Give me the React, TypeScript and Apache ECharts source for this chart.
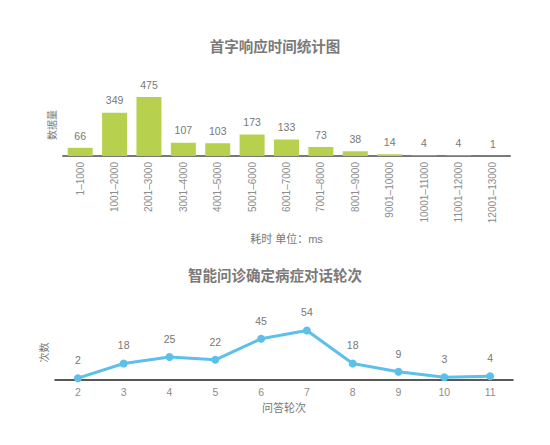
import {useEffect, useRef} from 'react';
import * as echarts from 'echarts';

const latencyBuckets = [
    '1–1000', '1001–2000', '2001–3000', '3001–4000', '4001–5000', '5001–6000', '6001–7000',
    '7001–8000', '8001–9000', '9001–10000', '10001–11000', '11001–12000', '12001–13000'
];
const latencyCounts = [66, 349, 475, 107, 103, 173, 133, 73, 38, 14, 4, 4, 1];

const dialogRounds = ['2', '3', '4', '5', '6', '7', '8', '9', '10', '11'];
const dialogTimes = [2, 18, 25, 22, 45, 54, 18, 9, 3, 4];

const FONT = '"Liberation Sans", "Noto Sans CJK SC", sans-serif';
const TEXT = '#777';
const TICK = '#8c8c8c';

export default function App() {
    const ref = useRef<HTMLDivElement | null>(null);

    useEffect(() => {
        if (!ref.current) return;
        const chart = echarts.init(ref.current, null, {renderer: 'svg'});
        chart.setOption({
            animation: false,
            textStyle: {fontFamily: FONT},
            title: [
                {
                    text: '首字响应时间统计图', left: 'center', top: 35,
                    textStyle: {fontSize: 14.5, fontWeight: 'bold', color: '#7a7a7a', fontFamily: FONT}
                },
                {
                    text: '智能问诊确定病症对话轮次', left: 'center', top: 264,
                    textStyle: {fontSize: 14.5, fontWeight: 'bold', color: '#7a7a7a', fontFamily: FONT}
                }
            ],
            grid: [
                {left: 63, right: 40, top: 94, height: 62},
                {left: 55, right: 37, top: 325, height: 55}
            ],
            xAxis: [
                {
                    type: 'category', gridIndex: 0, data: latencyBuckets,
                    axisTick: {show: false},
                    axisLine: {lineStyle: {color: '#777', width: 2}},
                    axisLabel: {rotate: 90, fontSize: 10, color: TICK, margin: 6, interval: 0},
                    name: '耗时 单位：ms', nameLocation: 'middle', nameGap: 77,
                    nameTextStyle: {fontSize: 11, color: TEXT}
                },
                {
                    type: 'category', gridIndex: 1, data: dialogRounds,
                    axisTick: {show: false},
                    axisLine: {lineStyle: {color: '#222', width: 1.5}},
                    axisLabel: {fontSize: 10.5, color: TICK, margin: 7},
                    name: '问答轮次', nameLocation: 'middle', nameGap: 22,
                    nameTextStyle: {fontSize: 11, color: TEXT}
                }
            ],
            yAxis: [
                {
                    type: 'value', gridIndex: 0, min: 0, max: 500,
                    axisLine: {show: false}, axisTick: {show: false},
                    axisLabel: {show: false}, splitLine: {show: false},
                    name: '数据量', nameLocation: 'middle', nameGap: 6,
                    nameTextStyle: {fontSize: 10, color: TEXT}
                },
                {
                    type: 'value', gridIndex: 1, min: 0, max: 60,
                    axisLine: {show: false}, axisTick: {show: false},
                    axisLabel: {show: false}, splitLine: {show: false},
                    name: '次数', nameLocation: 'middle', nameGap: 6,
                    nameTextStyle: {fontSize: 10, color: TEXT}
                }
            ],
            series: [
                {
                    type: 'bar', xAxisIndex: 0, yAxisIndex: 0, data: latencyCounts,
                    barWidth: 25,
                    itemStyle: {color: '#b7d04d'},
                    label: {show: true, position: 'top', distance: 7, fontSize: 10.5, color: TEXT}
                },
                {
                    type: 'line', xAxisIndex: 1, yAxisIndex: 1, data: dialogTimes,
                    symbol: 'circle', symbolSize: 8,
                    lineStyle: {color: '#5cc0ea', width: 3},
                    itemStyle: {color: '#5cc0ea'},
                    label: {show: true, position: 'top', distance: 9, fontSize: 10.5, color: TEXT}
                }
            ]
        });
        return () => chart.dispose();
    }, []);

    return <div ref={ref} style={{position: 'fixed', left: 0, top: 0, width: 550, height: 445, background: '#fff'}}/>;
}
